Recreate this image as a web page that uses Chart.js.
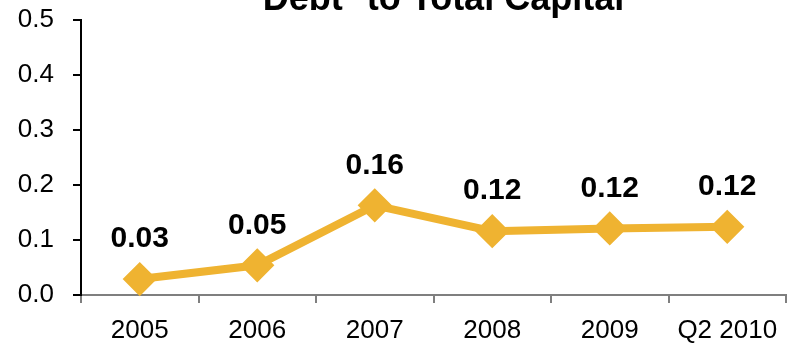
<!DOCTYPE html>
<html>
<head>
<meta charset="utf-8">
<script src="https://cdn.jsdelivr.net/npm/chart.js@4"></script>
<style>
  html, body { margin: 0; padding: 0; background: #fff; overflow: hidden; }
  #wrap { width: 789px; height: 349px; position: relative; }
  canvas { display: block; }
</style>
</head>
<body>
<div id="wrap"><canvas id="debtChart"></canvas></div>
<script>
// --- Debt to Total Capital ---

const years = ['2005', '2006', '2007', '2008', '2009', 'Q2 2010'];
const debtRatio = [0.029, 0.054, 0.163, 0.116, 0.121, 0.124];
const yTicks = [0, 0.1, 0.2, 0.3, 0.4, 0.5];

const chartTitle = 'Debt* to Total Capital';
const lineColor = '#EFB331';
const fontFamily = '"Liberation Sans", Arial, sans-serif';

// title sits partly above the canvas, like the original slide
const titlePlugin = {
    id: 'slideTitle',
    afterDraw(chart) {
        const { ctx, chartArea } = chart;
        ctx.save();
        ctx.font = 'bold 36px ' + fontFamily;
        ctx.fillStyle = '#000';
        ctx.textAlign = 'center';
        ctx.textBaseline = 'alphabetic';
        ctx.fillText(chartTitle, (chartArea.left + chartArea.right) / 2 + 10, 10);
        ctx.restore();
    }
};

// value labels above each diamond
const valueLabels = {
    id: 'valueLabels',
    afterDatasetsDraw(chart) {
        const { ctx } = chart;
        const meta = chart.getDatasetMeta(0);
        ctx.save();
        ctx.font = 'bold 30px ' + fontFamily;
        ctx.fillStyle = '#000';
        ctx.textAlign = 'center';
        ctx.textBaseline = 'middle';
        meta.data.forEach((pt, i) => {
            ctx.fillText(debtRatio[i].toFixed(2), pt.x, pt.y - 40);
        });
        ctx.restore();
    }
};

const ctx = document.getElementById('debtChart');
const chart = new Chart(ctx, {
    type: 'line',
    data: {
        labels: years,
        datasets: [{
            data: debtRatio,
            borderColor: lineColor,
            backgroundColor: lineColor,
            borderWidth: 8,
            pointStyle: 'rectRot',
            pointRadius: 15,
            pointBorderWidth: 3,
            pointBackgroundColor: lineColor,
            pointBorderColor: lineColor,
            clip: false,
            tension: 0
        }]
    },
    options: {
        responsive: true,
        maintainAspectRatio: false,
        animation: false,
        layout: {
            autoPadding: false,
            padding: { top: 20, right: 3, left: 0, bottom: 0 }
        },
        plugins: {
            legend: { display: false },
            tooltip: { enabled: false }
        },
        scales: {
            x: {
                offset: true,
                grid: {
                    offset: true,
                    drawOnChartArea: false,
                    drawTicks: true,
                    tickLength: 8,
                    color: '#7f7f7f',
                    lineWidth: 2
                },
                border: { color: '#7f7f7f', width: 2 },
                ticks: {
                    color: '#000',
                    padding: 12,
                    maxRotation: 0,
                    font: { family: fontFamily, size: 26 }
                },
                afterFit: s => {
                    s.height = 54;
                    s.paddingLeft = 0;
                    s.paddingRight = 0;
                }
            },
            y: {
                min: 0,
                max: 0.5,
                afterBuildTicks: s => { s.ticks = yTicks.map(v => ({ value: v })); },
                grid: {
                    drawOnChartArea: false,
                    drawTicks: true,
                    tickLength: 8,
                    color: '#000',
                    lineWidth: 2
                },
                border: { color: '#000', width: 2 },
                ticks: {
                    color: '#000',
                    padding: 19,
                    callback: v => v.toFixed(1),
                    font: { family: fontFamily, size: 26 }
                },
                afterFit: s => {
                    s.width = 81;
                    s.paddingTop = 0;
                    s.paddingBottom = 0;
                }
            }
        }
    },
    plugins: [titlePlugin, valueLabels]
});
</script>
</body>
</html>
